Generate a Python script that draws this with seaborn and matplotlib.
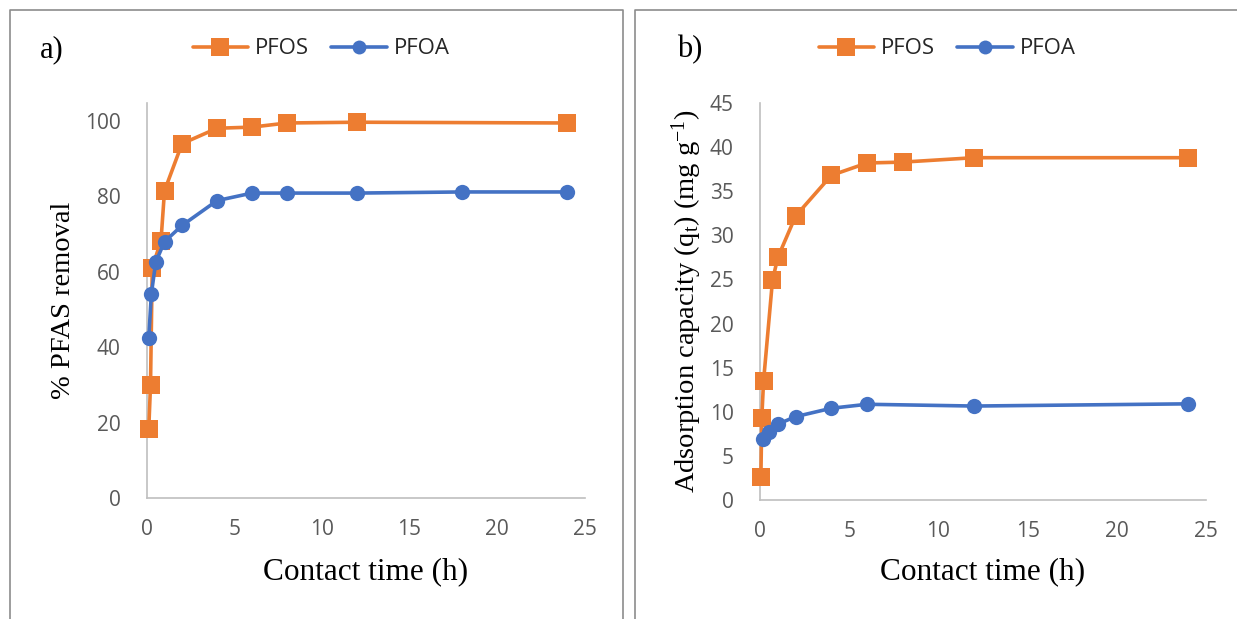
import matplotlib
matplotlib.use("Agg")
import matplotlib.pyplot as plt
from matplotlib.lines import Line2D
import seaborn as sns
import pandas as pd

# ---- data ----
compounds = ["PFOS", "PFOA"]

a_pfos_time = [0.1, 0.2, 0.3, 0.8, 1, 2, 4, 6, 8, 12, 24]
a_pfos_val = [18.3, 29.9, 61.1, 68.3, 81.5, 94.0, 98.1, 98.4, 99.5, 99.7, 99.5]
a_pfoa_time = [0.1, 0.25, 0.5, 1, 2, 4, 6, 8, 12, 18, 24]
a_pfoa_val = [42.5, 54.2, 62.6, 68.0, 72.3, 78.9, 80.9, 80.9, 80.9, 81.2, 81.2]

b_pfos_time = [0.05, 0.1, 0.2, 0.7, 1, 2, 4, 6, 8, 12, 24]
b_pfos_val = [2.6, 9.3, 13.5, 24.9, 27.5, 32.2, 36.8, 38.2, 38.3, 38.8, 38.8]
b_pfoa_time = [0.15, 0.5, 1, 2, 4, 6, 12, 24]
b_pfoa_val = [6.9, 7.75, 8.6, 9.45, 10.4, 10.85, 10.65, 10.9]

x_ticks = [0, 5, 10, 15, 20, 25]
a_y_ticks = [0, 20, 40, 60, 80, 100]
b_y_ticks = [0, 5, 10, 15, 20, 25, 30, 35, 40, 45]

x_label = "Contact time (h)"
a_y_label = "% PFAS removal"
b_y_label = r"Adsorption capacity (q$_\mathregular{t}$) (mg g$^\mathregular{-1}$)"


def long_df(t1, v1, t2, v2):
    return pd.DataFrame({
        "time": list(t1) + list(t2),
        "value": list(v1) + list(v2),
        "compound": [compounds[0]] * len(t1) + [compounds[1]] * len(t2),
    })


df_a = long_df(a_pfos_time, a_pfos_val, a_pfoa_time, a_pfoa_val)
df_b = long_df(b_pfos_time, b_pfos_val, b_pfoa_time, b_pfoa_val)

# ---- style ----
sns.set_theme(style="white")
plt.rcParams["font.family"] = ["Open Sans", "DejaVu Sans"]
plt.rcParams["mathtext.fontset"] = "custom"
plt.rcParams["mathtext.rm"] = "Liberation Serif"
plt.rcParams["mathtext.it"] = "Liberation Serif:italic"

ORANGE = "#ED7D31"
BLUE = "#4472C4"
palette = {"PFOS": ORANGE, "PFOA": BLUE}
markers = {"PFOS": "s", "PFOA": "o"}
SPINE = "#BFBFBF"
TICKC = "#595959"
SERIF = "Liberation Serif"

W, H = 1237, 619
fig = plt.figure(figsize=(W / 100, H / 100), dpi=100)


def px_rect(left, right, top, bottom):
    return [left / W, 1 - bottom / H, (right - left) / W, (bottom - top) / H]


ax_a = fig.add_axes(px_rect(147, 584.5, 103, 498))
ax_b = fig.add_axes(px_rect(760, 1206, 103, 500))

for ax, df, ylim, yticks, ylab, ylab_x, lab, lab_x in [
    (ax_a, df_a, (0, 104.8), a_y_ticks, a_y_label, 63, "a)", 52),
    (ax_b, df_b, (0, 45), b_y_ticks, b_y_label, 687, "b)", 690),
]:
    sns.lineplot(
        data=df, x="time", y="value", hue="compound", style="compound",
        hue_order=compounds, style_order=compounds, palette=palette,
        markers=markers, dashes=False, linewidth=2.6, markersize=12.5,
        markeredgewidth=0, legend=False, ax=ax, sort=True,
    )
    for ln in ax.lines:
        ln.set_clip_on(False)
        if ln.get_marker() == "o":
            ln.set_markersize(11)
    ax.set_xlim(0, 25)
    ax.set_ylim(*ylim)
    ax.set_xticks(x_ticks)
    ax.set_yticks(yticks)
    ax.tick_params(axis="both", length=0, labelsize=15, labelcolor=TICKC)
    ax.tick_params(axis="x", pad=15)
    ax.tick_params(axis="y", pad=19)
    for s in ["top", "right"]:
        ax.spines[s].set_visible(False)
    for s in ["left", "bottom"]:
        ax.spines[s].set_color(SPINE)
        ax.spines[s].set_linewidth(1.2)
        ax.spines[s].set_zorder(0.5)
    ax.set_xlabel("")
    ax.set_ylabel("")
    ax.grid(False)
    # axis titles
    bbox = ax.get_position()
    fig.text((bbox.x0 + bbox.x1) / 2, 1 - 572 / H, x_label, family=SERIF,
             fontsize=22.5, ha="center", va="center", color="black")
    fig.text(ylab_x / W, (bbox.y0 + bbox.y1) / 2, ylab, family=SERIF,
             fontsize=20.5, rotation=90, ha="center", va="center", color="black")
    fig.text(lab_x / W, 1 - 50 / H, lab, family=SERIF, fontsize=22,
             ha="center", va="center", color="black")

# ---- legends ----
handles = [
    Line2D([], [], color=ORANGE, marker="s", markersize=12.5, markeredgewidth=0, linewidth=2.6),
    Line2D([], [], color=BLUE, marker="o", markersize=10, markeredgewidth=0, linewidth=2.6),
]
for cx in (321, 947):
    fig.legend(handles, compounds, loc="center", bbox_to_anchor=(cx / W, 1 - 49 / H),
               ncol=2, frameon=False, fontsize=16, handlelength=2.5,
               handletextpad=0.3, columnspacing=1.0, borderpad=0)

# ---- panel borders ----
BORDER = "#8C8C8C"
lw = 1.2
def fig_line(xs, ys):
    fig.add_artist(Line2D([x / W for x in xs], [1 - y / H for y in ys],
                          color=BORDER, linewidth=lw, transform=fig.transFigure))

fig_line([10, 10, 623, 623], [619, 9.5, 9.5, 619])
fig_line([634.5, 634.5, 1237], [619, 9.5, 9.5])

fig.savefig("out.png", dpi=100, facecolor="white")
